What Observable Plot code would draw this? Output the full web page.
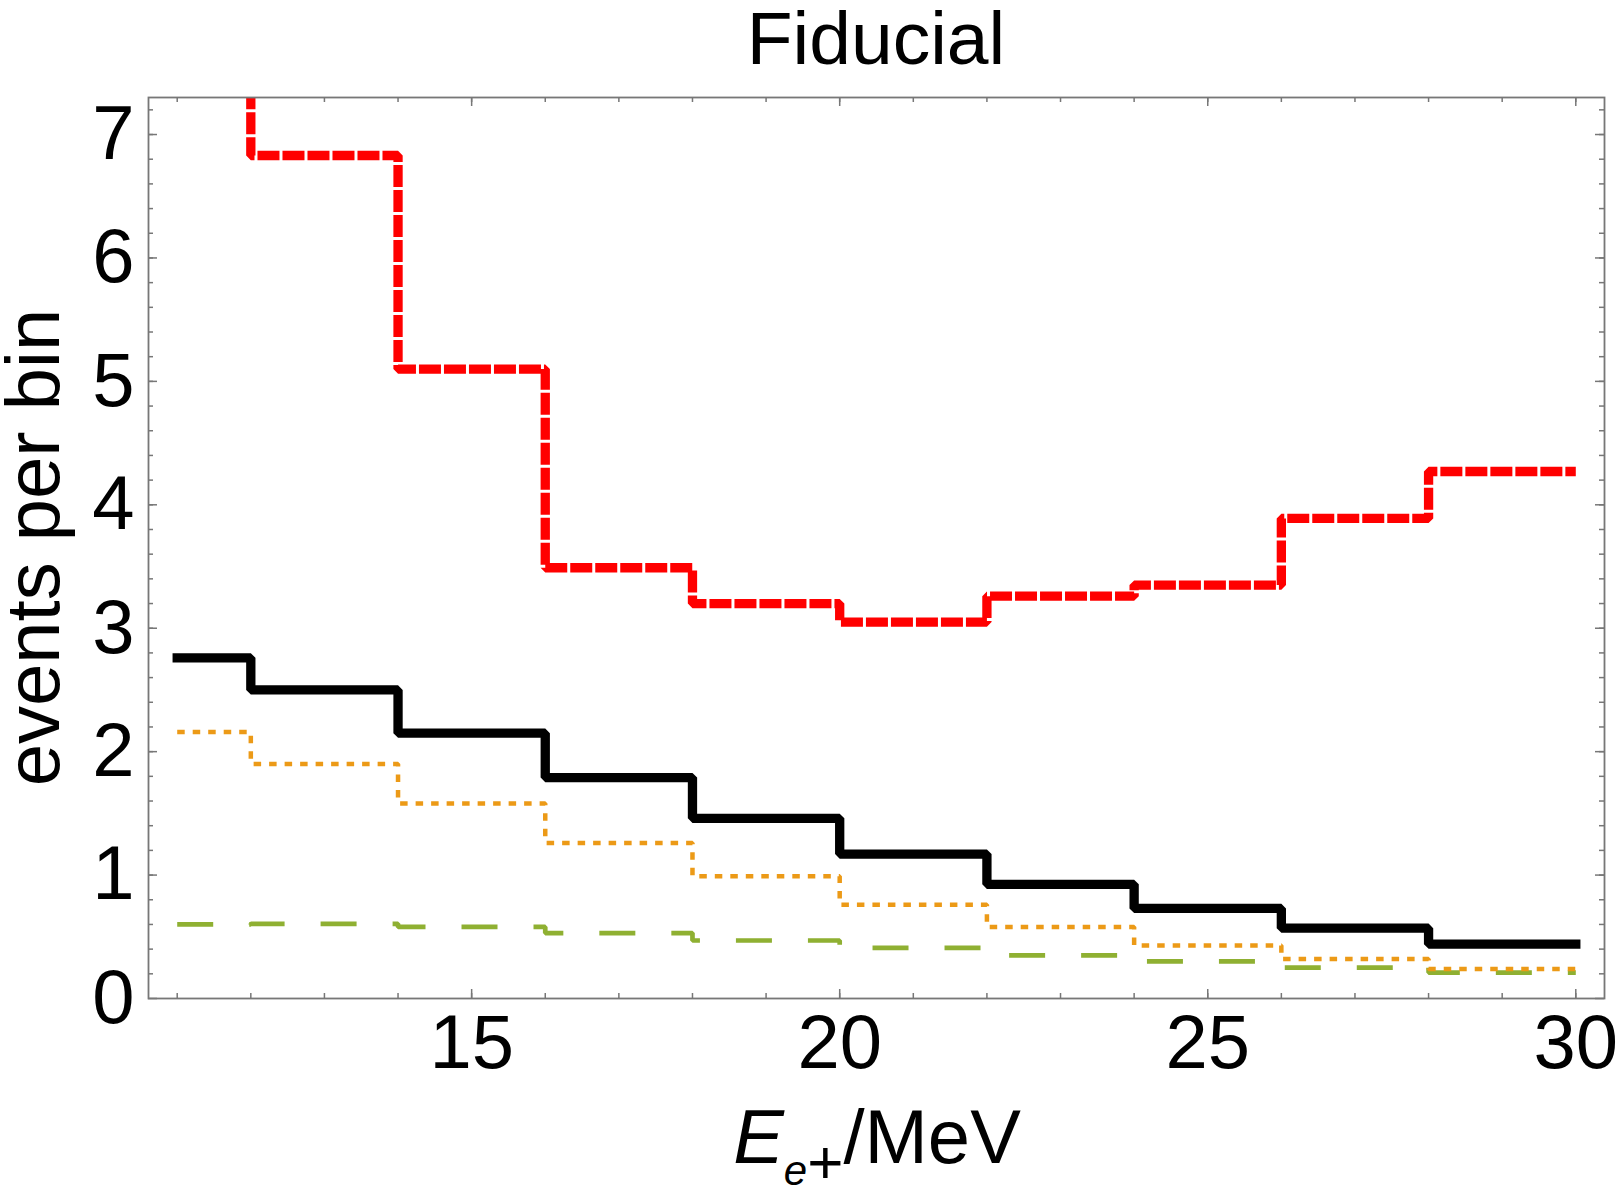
<!DOCTYPE html>
<html><head><meta charset="utf-8">
<script src="https://cdn.jsdelivr.net/npm/d3@7"></script>
<script src="https://cdn.jsdelivr.net/npm/@observablehq/plot@0.6"></script>
<style>html,body{margin:0;padding:0;background:#fff;}</style>
</head><body><div id="chart"></div>
<script>
// Bin edges (MeV) and event counts per bin
const binEdges = [11, 12, 14, 16, 18, 20, 22, 24, 26, 28, 30];
const blackValues  = [2.76, 2.50, 2.15, 1.79, 1.46, 1.17, 0.925, 0.73, 0.57, 0.44];
const orangeValues = [2.16, 1.90, 1.58, 1.26, 0.99, 0.76, 0.58, 0.43, 0.32, 0.24];
const greenValues  = [0.60, 0.605, 0.58, 0.53, 0.47, 0.41, 0.35, 0.30, 0.25, 0.21];
const redValues    = [7.8, 6.83, 5.10, 3.49, 3.20, 3.05, 3.26, 3.35, 3.89, 4.27]; // first bin off-scale
const xTickLabels = [15, 20, 25, 30];
const yTickLabels = [0, 1, 2, 3, 4, 5, 6, 7];
const xMinorTicks = [11,12,13,14,15,16,17,18,19,20,21,22,23,24,25,26,27,28,29,30];
const yMinorTicks = [0.2,0.4,0.6,0.8,1,1.2,1.4,1.6,1.8,2,2.2,2.4,2.6,2.8,3,3.2,3.4,3.6,3.8,4,4.2,4.4,4.6,4.8,5,5.2,5.4,5.6,5.8,6,6.2,6.4,6.6,6.8,7,7.2];

function steps(values) {
  const rows = values.map((v, i) => ({x: binEdges[i], y: v}));
  rows.push({x: binEdges[binEdges.length - 1], y: values[values.length - 1]});
  return rows;
}

const W = 1621, H = 1196, mt = 97, mr = 17, mb = 198, ml = 148;
const iw = W - ml - mr, ih = H - mt - mb;
const frameColor = "#777";
const majorLen = 9, minorLen = 5;
const font = "'Liberation Sans', Arial, Helvetica, sans-serif";

const plot = Plot.plot({
  width: W, height: H,
  marginTop: mt, marginRight: mr, marginBottom: mb, marginLeft: ml,
  style: {fontFamily: font, fontSize: "76px", background: "#fff", color: "#000"},
  x: {domain: [10.61, 30.39]},
  y: {domain: [0, 7.3]},
  marks: [
    // inward ticks on all four sides
    Plot.tickX(xMinorTicks, {x: d => d, stroke: frameColor, strokeWidth: 1.5, insetTop: ih - minorLen}),
    Plot.tickX(xTickLabels, {x: d => d, stroke: frameColor, strokeWidth: 1.5, insetTop: ih - majorLen}),
    Plot.tickX(xMinorTicks, {x: d => d, stroke: frameColor, strokeWidth: 1.5, insetBottom: ih - minorLen}),
    Plot.tickX(xTickLabels, {x: d => d, stroke: frameColor, strokeWidth: 1.5, insetBottom: ih - majorLen}),
    Plot.tickY(yMinorTicks, {y: d => d, stroke: frameColor, strokeWidth: 1.5, insetRight: iw - minorLen}),
    Plot.tickY(yTickLabels, {y: d => d, stroke: frameColor, strokeWidth: 1.5, insetRight: iw - majorLen}),
    Plot.tickY(yMinorTicks, {y: d => d, stroke: frameColor, strokeWidth: 1.5, insetLeft: iw - minorLen}),
    Plot.tickY(yTickLabels, {y: d => d, stroke: frameColor, strokeWidth: 1.5, insetLeft: iw - majorLen}),
    Plot.axisX(xTickLabels, {tickSize: 0, tickPadding: 16, label: null, fontSize: 76, tickFormat: d => String(d)}),
    Plot.axisY(yTickLabels, {tickSize: 0, tickPadding: 14, label: null, fontSize: 76, tickFormat: d => String(d)}),
    // step histograms
    Plot.line(steps(greenValues), {x: "x", y: "y", curve: "step-after", stroke: "#8fb032",
      strokeWidth: 4.7, strokeDasharray: "36,36", strokeLinecap: "butt", strokeLinejoin: "miter", clip: true}),
    Plot.line(steps(orangeValues), {x: "x", y: "y", curve: "step-after", stroke: "#ec9a17",
      strokeWidth: 4.5, strokeDasharray: "7.5,8", strokeLinecap: "butt", strokeLinejoin: "miter", clip: true}),
    Plot.line(steps(blackValues), {x: "x", y: "y", curve: "step-after", stroke: "#000",
      strokeWidth: 9.3, strokeLinecap: "square", strokeLinejoin: "miter", clip: true}),
    Plot.line(steps(redValues), {x: "x", y: "y", curve: "step-after", stroke: "#ff0000",
      strokeWidth: 9.3, strokeDasharray: "22,3", strokeLinecap: "butt", strokeLinejoin: "miter", clip: true}),
    Plot.frame({stroke: frameColor, strokeWidth: 1.8})
  ]
});

const svg = d3.select(plot);
svg.append("text")
  .attr("x", ml + iw / 2).attr("y", 64)
  .attr("text-anchor", "middle")
  .style("font-family", font).style("font-size", "75px").attr("fill", "#000")
  .text("Fiducial");

svg.append("text")
  .attr("transform", `translate(59,${mt + ih / 2}) rotate(-90)`)
  .attr("text-anchor", "middle")
  .style("font-family", font).style("font-size", "76px").attr("fill", "#000")
  .text("events per bin");

const xl = svg.append("text")
  .attr("x", 877).attr("y", 1163)
  .attr("text-anchor", "middle")
  .style("font-family", font).style("font-size", "76px").attr("fill", "#000");
xl.append("tspan").attr("font-style", "italic").style("font-style", "italic").text("E");
xl.append("tspan").attr("font-style", "italic").style("font-style", "italic").style("font-size", "42px").attr("dy", 22).text("e");
xl.append("tspan").attr("font-style", "normal").style("font-style", "normal").style("font-size", "62px").attr("dy", -2).text("+");
xl.append("tspan").attr("font-style", "normal").style("font-style", "normal").attr("dy", -20).text("/MeV");

document.getElementById("chart").appendChild(plot);
</script>
</body></html>
